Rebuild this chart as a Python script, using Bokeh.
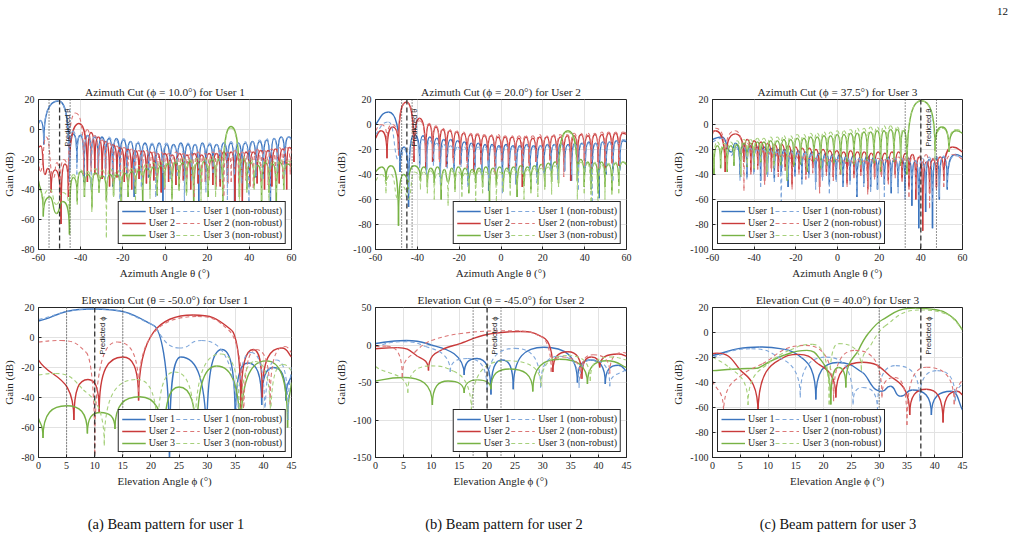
import numpy as np
from bokeh.plotting import figure
from bokeh.layouts import row, column
from bokeh.models import Range1d, Legend, LegendItem, Span, FixedTicker, ColumnDataSource, Title, Div
from bokeh.core.properties import value
from bokeh.embed import file_html
from bokeh.resources import INLINE

# ---------------------------------------------------------------------------
# Beam-pattern traces, stored as the extrema of each curve (lobe peaks and
# nulls, plus the values at the axis edges).  Gain in dB.
# ---------------------------------------------------------------------------

# Azimuth cut, phi = 10.0 deg (user 1 steered to theta = -50)
AZ1_U1_X = [-60, -59.2, -57.5, -50.5, -45.3,
            -43.6, -41.8, -40.1, -38.4, -36.7, -35.0, -33.3, -31.6, -29.9, -28.2, -26.5, -24.8, -23.1, -21.4,
            -19.7, -18.0, -16.3, -14.6, -12.9, -11.2, -9.5, -7.8, -6.1, -4.4, -2.7, -1.0, 0.7, 2.4, 4.1, 5.8,
            7.5, 9.2, 10.9, 12.6, 14.3, 16.0, 17.7, 19.4, 21.1, 22.8, 24.5, 26.2, 27.9, 29.6, 31.3, 33.0,
            34.7, 36.4, 38.1, 39.8, 41.5, 43.2, 44.9, 46.6, 48.3, 50.0, 51.7, 53.4, 55.1, 56.8, 58.6, 60]
AZ1_U1_Y = [4, 6, -10, 19, -28,
            -3, -22, -4, -35, -4, -24, -5, -30, -5, -26, -6, -38, -6, -28, -7, -30, -8, -45, -9, -27, -9, -32,
            -10, -28, -9, -50, -10, -30, -10, -27, -9, -33, -10, -30, -10, -48, -9, -28, -10, -30, -10, -35,
            -9, -31, -9, -55, -9, -30, -9, -28, -8, -32, -8, -30, -7, -60, -6, -29, -5, -26, -5, -6]
AZ1_U1NR_Y = [5, 6, -8, 19, -35,
              -1, -30, -3, -28, -4, -40, -4, -26, -6, -33, -5, -29, -7, -50, -6, -27, -8, -35, -8, -38, -10, -30,
              -9, -45, -10, -29, -9, -33, -11, -31, -10, -52, -9, -34, -10, -30, -10, -42, -9, -29, -10, -33,
              -9, -47, -8, -30, -9, -36, -8, -58, -8, -31, -7, -33, -6, -45, -6, -28, -5, -30, -5, -7]
AZ1_U2_X = [-60, -58.8, -57.0, -55.6, -54.0, -52.0, -49.3, -47.5, -45.8, -40.8, -36.8,
            -35.1, -33.3, -31.6, -29.8, -28.1, -26.3, -24.6, -22.8, -21.1, -19.3, -17.6, -15.8, -14.1, -12.3,
            -10.6, -8.8, -7.1, -5.3, -3.6, -1.8, -0.1, 1.7, 3.4, 5.2, 6.9, 8.7, 10.4, 12.2, 13.9, 15.7, 17.4,
            19.2, 20.9, 22.7, 24.4, 26.2, 27.9, 29.7, 31.4, 33.2, 34.9, 36.7, 38.4, 40.2, 41.9, 43.7, 45.4,
            47.2, 48.9, 50.7, 52.4, 54.2, 55.9, 57.7, 58.9, 60]
AZ1_U2_Y = [-12, -11, -30, -26, -42, -27, -63, -23, -45, 4, -35,
            -2, -30, -5, -33, -8, -38, -10, -32, -12, -35, -13, -40, -14, -33, -14, -36, -15, -34, -16, -42,
            -16, -35, -17, -37, -16, -34, -17, -40, -16, -36, -17, -35, -16, -37, -16, -38, -15, -36, -15, -52,
            -16, -55, -15, -38, -15, -36, -14, -40, -14, -38, -13, -36, -13, -40, -12, -13]
AZ1_U2NR_X = [-60, -59.2, -56.3, -52.8, -51.3, -49.8, -48.0, -45.9, -42.4, -38.6,
              -36.9, -35.1, -33.4, -31.6, -29.9, -28.1, -26.4, -24.6, -22.9, -21.1, -19.4, -17.6, -15.9, -14.1,
              -12.4, -10.6, -8.9, -7.1, -5.4, -3.6, -1.9, -0.1, 1.7, 3.4, 5.2, 6.9, 8.7, 10.4, 12.2, 13.9, 15.7,
              17.4, 19.2, 20.9, 22.7, 24.4, 26.2, 27.9, 29.7, 31.4, 33.2, 34.9, 36.7, 38.4, 40.2, 41.9, 43.7,
              45.4, 47.2, 48.9, 50.7, 52.4, 54.2, 55.9, 57.7, 59.4, 60]
AZ1_U2NR_Y = [-20, -28, -5, -32, -22, -48, -20, -40, 11, -30,
              0, -28, -4, -32, -7, -30, -9, -36, -11, -31, -12, -34, -13, -38, -14, -32, -14, -35, -15, -33,
              -15, -40, -16, -34, -15, -36, -16, -33, -16, -45, -15, -35, -16, -34, -15, -38, -14, -44, -15, -35,
              -14, -36, -15, -34, -14, -39, -13, -35, -14, -37, -13, -34, -12, -33, -12, -30, -14]
AZ1_U3_X = [-60, -57.7, -54.6, -51.5, -48.5, -45.3,
            -43.5, -41.6, -39.9, -38.2, -36.5, -34.7, -33.0, -31.3, -29.6, -27.8, -26.1, -24.4, -22.7, -20.9,
            -19.2, -17.5, -15.8, -14.0, -12.3, -10.6, -8.9, -7.1, -5.4, -3.7, -2.0, -0.2, 1.5, 3.3, 5.0, 6.7,
            8.5, 10.2, 11.9, 13.6, 15.4, 17.1, 18.8, 20.5, 22.3, 24.0, 25.7, 27.4,
            31.3, 35.3,
            37.1, 38.8, 40.6, 42.3, 44.1, 45.8, 47.6, 49.3, 51.1, 52.8, 54.6, 56.3, 58.2, 60]
AZ1_U3_Y = [-34, -58, -45, -56, -48, -70,
            -32, -48, -28, -45, -30, -52, -29, -42, -31, -47, -30, -44, -30, -60, -29, -45, -28, -43, -27, -50,
            -26, -40, -25, -44, -24, -38, -23, -46, -22, -40, -22, -42, -21, -55, -22, -40, -21, -45, -20, -40,
            -20, -50,
            2, -45,
            -20, -40, -22, -38, -24, -50, -22, -42, -23, -55, -22, -40, -23, -25]
AZ1_U3NR_Y = [-38, -52, -40, -50, -42, -60,
              -30, -50, -27, -44, -28, -55, -26, -42, -27, -72, -26, -45, -27, -48, -25, -42, -26, -52, -24, -40,
              -23, -46, -22, -43, -21, -39, -21, -48, -20, -41, -19, -44, -20, -40, -19, -52, -19, -41, -18, -45,
              -18, -47,
              1, -50,
              -18, -42, -20, -40, -21, -47, -20, -52, -21, -42, -20, -40, -21, -22]

# Azimuth cut, phi = 20.0 deg (user 2 steered to theta = -45)
AZ2_U1_X = [-60, -53.8, -48.3, -46.3, -44.2, -41.5, -38.9,
            -37.3, -35.6, -34.0, -32.3, -30.7, -29.0, -27.4, -25.7, -24.1, -22.4, -20.8, -19.1, -17.5, -15.8,
            -14.2, -12.5, -10.9, -9.2, -7.6, -5.9, -4.3, -2.6, -1.0, 0.7, 2.4, 4.0, 5.7, 7.3, 9.0, 10.6, 12.3,
            13.9, 15.6, 17.2, 18.9, 20.5, 22.2, 23.8, 25.5, 27.1, 28.8, 30.4, 32.1, 33.7, 35.4, 37.0, 38.7,
            40.3, 42.0, 43.6, 45.3, 46.9, 48.6, 50.2, 51.9, 53.5, 55.2, 56.8, 58.4, 60]
AZ2_U1_Y = [0, 10, -38, -18, -66, -8, -32,
            -9, -36, -10, -30, -11, -42, -12, -33, -12, -35, -13, -31, -14, -45, -15, -34, -15, -38, -16, -53,
            -16, -35, -17, -40, -16, -36, -17, -48, -17, -37, -16, -35, -17, -42, -17, -38, -16, -36, -16, -40,
            -15, -37, -16, -45, -15, -39, -15, -36, -14, -38, -15, -59, -14, -40, -14, -37, -13, -36, -13, -14]
AZ2_U1NR_Y = [-8, 2, -30, -20, -55, -10, -35,
              -12, -40, -13, -33, -15, -48, -16, -35, -17, -38, -18, -34, -18, -50, -17, -36, -18, -40, -18, -45,
              -17, -37, -18, -55, -17, -38, -18, -42, -18, -39, -17, -36, -18, -47, -17, -39, -17, -37, -16, -44,
              -16, -38, -17, -40, -16, -52, -15, -38, -15, -62, -15, -40, -14, -38, -14, -45, -13, -37, -12, -13]
AZ2_U2_X = [-60, -57.3, -54.5, -51.8, -49.0, -45.2, -41.6, -38.9, -36.0,
            -34.4, -32.7, -31.1, -29.4, -27.8, -26.1, -24.5, -22.8, -21.2, -19.5, -17.9, -16.2, -14.6, -12.9,
            -11.3, -9.6, -8.0, -6.3, -4.7, -3.0, -1.4, 0.3, 2.0, 3.6, 5.3, 6.9, 8.6, 10.2, 11.9, 13.5, 15.2,
            16.8, 18.5, 20.1, 21.8, 23.4, 25.1, 26.7, 28.4, 30.0, 31.7, 33.3, 35.0, 36.6, 38.3, 39.9, 41.6,
            43.2, 44.9, 46.5, 48.2, 49.8, 51.5, 53.1, 54.8, 56.4, 58.2, 60]
AZ2_U2_Y = [-11, -5, -27, -2, -20, 18, -30, 5, -35,
            0, -30, -2, -28, -4, -34, -5, -27, -6, -32, -7, -29, -8, -38, -8, -30, -9, -28, -9, -33, -10, -30,
            -10, -36, -10, -29, -11, -50, -10, -31, -11, -30, -10, -34, -10, -28, -9, -32, -10, -30, -9, -45,
            -9, -31, -8, -29, -9, -35, -8, -30, -8, -38, -7, -31, -7, -33, -7, -8]
AZ2_U2NR_Y = [-5, 0, -15, 0, -25, 18, -25, 3, -30,
              1, -26, -1, -30, -3, -25, -4, -31, -5, -28, -6, -35, -7, -27, -7, -32, -8, -29, -8, -40, -8, -28,
              -9, -31, -9, -34, -9, -29, -9, -33, -9, -30, -8, -36, -9, -29, -8, -31, -8, -42, -8, -30, -7, -29,
              -7, -33, -7, -30, -7, -35, -6, -30, -6, -31, -6, -29, -6, -7]
AZ2_U3_X = [-60, -57.0, -55.0, -52.5, -49.0, -46.6, -44.4, -41.5, -38.5,
            -36.9, -35.2, -33.6, -31.9, -30.3, -28.6, -27.0, -25.3, -23.7, -22.0, -20.4, -18.7, -17.1, -15.4,
            -13.8, -12.1, -10.5, -8.8, -7.2, -5.5, -3.9, -2.2, -0.6, 1.1, 2.8, 4.4, 6.1, 7.7, 9.4, 11.0, 12.7,
            14.3, 16.0, 17.6, 19.3, 20.9, 22.6, 24.2, 25.9, 27.5,
            32.0, 36.5,
            38.2, 39.8, 41.5, 43.1, 44.8, 46.4, 48.1, 49.7, 51.4, 53.0, 54.7, 56.3, 58.2, 60]
AZ2_U3_Y = [-38, -34, -45, -33, -81, -40, -55, -33, -45,
            -34, -50, -35, -47, -34, -60, -36, -46, -35, -52, -34, -48, -35, -55, -36, -47, -35, -50, -34, -62,
            -35, -48, -34, -53, -35, -47, -34, -58, -33, -49, -34, -52, -33, -48, -32, -50, -31, -46, -30, -47,
            -5, -45,
            -28, -50, -30, -52, -31, -55, -30, -50, -32, -53, -31, -49, -30, -32]
AZ2_U3NR_Y = [-45, -40, -55, -40, -60, -50, -60, -38, -52,
              -38, -55, -37, -60, -39, -52, -38, -65, -37, -54, -38, -58, -39, -52, -38, -62, -37, -55, -38, -53,
              -37, -66, -38, -54, -37, -57, -36, -52, -37, -60, -36, -55, -35, -58, -35, -52, -34, -56, -33, -50,
              -6, -60,
              -30, -55, -31, -95, -30, -92, -32, -60, -31, -56, -30, -55, -30, -31]

# Azimuth cut, phi = 37.5 deg (user 3 steered to theta = 40)
AZ3_U1_X = [-60, -55.5, -51.0, -49.0, -46.8,
            -45.2, -43.5, -41.9, -40.2, -38.6, -36.9, -35.3, -33.6, -32.0, -30.3, -28.7, -27.0, -25.4, -23.7,
            -22.1, -20.4, -18.8, -17.1, -15.5, -13.8, -12.2, -10.5, -8.9, -7.2, -5.6, -3.9, -2.3, -0.6, 1.1,
            2.7, 4.4, 6.0, 7.7, 9.3, 11.0, 12.6, 14.3, 15.9, 17.6, 19.2, 20.9, 22.5, 24.2, 25.8, 27.5, 29.1,
            30.8, 32.4, 34.1, 35.7, 37.4, 39.0, 40.7, 42.3, 44.0, 45.6, 47.3, 48.9, 50.8, 52.7, 56.5, 60]
AZ3_U1_Y = [-12, -10, -22, -15, -40,
            -16, -42, -17, -38, -18, -45, -18, -40, -19, -43, -20, -38, -20, -50, -21, -41, -21, -44, -22, -40,
            -22, -46, -23, -42, -23, -48, -24, -44, -24, -50, -25, -45, -25, -58, -26, -47, -25, -50, -26, -52,
            -27, -48, -26, -55, -27, -50, -28, -53, -27, -65, -29, -83, -30, -70, -28, -83, -27, -60, -26, -52,
            -24, -26]
AZ3_U1NR_Y = [-14, -11, -25, -18, -45,
              -18, -44, -19, -40, -20, -50, -20, -42, -21, -46, -22, -80, -21, -44, -22, -42, -23, -48, -23, -43,
              -24, -52, -24, -45, -25, -55, -25, -46, -26, -50, -26, -48, -27, -56, -27, -50, -28, -54, -27, -52,
              -28, -58, -27, -50, -27, -55, -27, -60, -28, -52, -29, -60, -27, -55, -26, -62, -25, -58, -25, -50,
              -25, -27]
AZ3_U2_X = [-60, -58.6, -53.9, -49.0, -44.9,
            -43.3, -41.6, -40.0, -38.3, -36.7, -35.0, -33.4, -31.7, -30.1, -28.4, -26.8, -25.1, -23.5, -21.8,
            -20.2, -18.5, -16.9, -15.2, -13.6, -11.9, -10.3, -8.6, -7.0, -5.3, -3.7, -2.0, -0.4, 1.3, 3.0, 4.6,
            6.3, 7.9, 9.6, 11.2, 12.9, 14.5, 16.2, 17.8, 19.5, 21.1, 22.8, 24.4, 26.1, 27.7, 29.4, 31.0, 32.7,
            34.3, 36.0, 37.6, 39.3, 40.9, 42.6, 44.2, 45.9, 47.5, 49.3, 51.0, 55.2, 60]
AZ3_U2_Y = [-6, -5, -38, -7.5, -30,
            -12, -38, -13, -33, -14, -45, -15, -35, -16, -38, -16, -34, -17, -48, -18, -36, -19, -40, -19, -35,
            -20, -50, -20, -38, -21, -42, -21, -36, -22, -47, -21, -40, -22, -38, -22, -52, -23, -42, -22, -40,
            -23, -45, -22, -40, -22, -43, -23, -50, -24, -60, -26, -85, -30, -55, -28, -50, -26, -45,
            -18, -22]
AZ3_U2NR_Y = [-8, -3, -30, -5, -53,
              -15, -40, -18, -36, -20, -48, -22, -38, -23, -42, -24, -37, -25, -52, -25, -40, -26, -44, -27, -39,
              -27, -55, -28, -41, -28, -45, -28, -40, -29, -50, -29, -43, -28, -41, -29, -56, -28, -44, -27, -42,
              -28, -48, -27, -43, -26, -46, -27, -58, -26, -52, -25, -48, -24, -67, -27, -52, -26, -50,
              -24, -28]
AZ3_U3_X = [-60, -59.3,
            -57.7, -56.1, -54.5, -52.9, -51.3, -49.7, -48.1, -46.5, -44.9, -43.3, -41.7, -40.1, -38.5, -36.9,
            -35.3, -33.7, -32.1, -30.5, -28.9, -27.3, -25.7, -24.1, -22.5, -20.9, -19.3, -17.7, -16.1, -14.5,
            -12.9, -11.3, -9.7, -8.1, -6.5, -4.9, -3.3, -1.7, -0.1, 1.5, 3.1, 4.7, 6.3, 7.9, 9.5, 11.1, 12.7,
            14.3, 15.9, 17.5, 19.1, 20.7, 22.3, 23.9, 25.5, 27.1, 28.7, 30.3, 31.8, 33.3,
            40.2, 46.8, 50.1, 53.5, 57.0, 60]
AZ3_U3_Y = [-20, -40,
            -17, -35, -18, -38, -17, -33, -16, -42, -15, -34, -15, -36, -14, -31, -14, -40, -13, -35, -13, -33,
            -12, -45, -12, -34, -11, -32, -11, -38, -10, -30, -10, -36, -9, -33, -9, -31, -8, -40, -8, -30,
            -7, -32, -7, -35, -6, -29, -6, -31, -5, -38, -5, -28, -4, -30, -4, -33, -5, -40,
            19, -21, -2, -22, -5, -7]
AZ3_U3NR_Y = [-18, -35,
              -14, -32, -15, -36, -14, -30, -13, -40, -12, -31, -12, -35, -11, -29, -11, -38, -10, -33, -10, -30,
              -9, -42, -9, -31, -8, -30, -8, -35, -7, -28, -7, -33, -6, -30, -6, -28, -5, -36, -5, -27,
              -4, -30, -3, -32, -3, -26, -2, -29, -2, -34, -1, -26, -1, -28, -2, -30, -3, -38,
              19, -28, -3, -20, -4, -6]

# Elevation cut, theta = -50.0 deg (user 1 steered to phi = 10)
EL1_U1_X = [0, 9.5, 20.5, 23.3, 25.3, 29.9, 32.6, 35.0, 37.2, 39.7, 41.8, 44.0, 45]
EL1_U1_Y = [11, 19, 8, -80, -13, -75, -8, -60, -17, -45, -20, -42, -25]
EL1_U1NR_X = [0, 10, 20, 25, 29, 35.4, 37.8, 40.3, 42.3, 44.4, 45]
EL1_U1NR_Y = [12, 19, 9, -7, -2, -70, -10, -60, -15, -55, -20]
EL1_U2_X = [0, 6.3, 8.8, 10.8, 15, 17.8, 27.5, 34.3, 36.0, 38.2, 39.8, 43.3, 45]
EL1_U2_Y = [-15, -55, -28, -50, -13, -42, 15, 5, -50, -8, -40, -7, -13]
EL1_U2NR_X = [0, 4, 8.5, 10, 14, 17.8, 28.3, 33.8, 36.5, 38.7, 41.2, 43.8, 45]
EL1_U2NR_Y = [-3, -2, -10, -78, -3, -36, 14, 5, -60, -8, -45, -6, -10]
EL1_U3_X = [0, 0.8, 5, 8.7, 11, 13.6, 18, 22.3, 25, 28.1, 31.7, 35.9, 40.5, 44.3, 45]
EL1_U3_Y = [-54, -67, -45.5, -64, -50, -61, -39.5, -75, -33, -75, -19, -70, -15.6, -60, -30]
EL1_U3NR_X = [0, 3, 8, 11.7, 17.5, 21.2, 24.2, 27.8, 32.5, 35.9, 38.5, 41.3, 43.5, 45]
EL1_U3NR_Y = [-25, -24, -35, -72, -28, -70, -23, -70, -11, -68, -16, -60, -18, -22]

# Elevation cut, theta = -45.0 deg (user 2 steered to phi = 20)
EL2_U1_X = [0, 5.5, 10, 15.9, 18.2, 20.7, 22.7, 24.7, 30.2, 36.2, 38.5, 41.2, 43.5, 45]
EL2_U1_Y = [2, 6, 0, -40, -18, -66, -20, -59, -3, -50, -20, -52, -27, -35]
EL2_U1NR_X = [0, 5, 9, 13.4, 16.5, 20, 25, 29.6, 33, 36.5, 38.7, 42, 45]
EL2_U1NR_Y = [-2, 4.5, -2, -36, -18, -60, -4.5, -57, -15, -57, -20, -55, -32]
EL2_U2_X = [0, 4, 7.5, 9.5, 12, 15, 20, 26, 30, 31.8, 34.5, 37, 38.7, 40.2, 43.5, 45]
EL2_U2_Y = [-5, -3.5, -15, -34, -6, 1.5, 14, 18, 10.4, -36, -9, -45, -16, -30, -12, -15]
EL2_U2NR_X = [0, 2, 4.8, 7, 10, 15, 20, 25, 29.5, 31.5, 33.5, 36.8, 39, 42, 44.5, 45]
EL2_U2NR_Y = [-2, -1.5, -43, -10, 6, 15, 18.5, 19, 12, -36, -16, -45, -13, -38, -10, -11]
EL2_U3_X = [0, 5, 10.2, 13, 15.9, 18.3, 20.7, 24, 28.2, 33, 38, 41.5, 45]
EL2_U3_Y = [-48, -43.4, -80, -48, -64, -46.5, -59, -32, -62, -19, -52, -21, -30]
EL2_U3NR_X = [0, 5.8, 10, 14, 17.2, 23.5, 29.7, 34.5, 38.5, 42, 45]
EL2_U3NR_Y = [-28.6, -63.7, -27.8, -35, -90, -21, -55, -14, -48, -16, -20]

# Elevation cut, theta = 40.0 deg (user 3 steered to phi = 37.5)
EL3_U1_X = [0, 8.5, 13, 16, 18.6, 22.5, 27, 30.5, 32, 33.8, 36, 39.4, 43, 45]
EL3_U1_Y = [-18.4, -11.6, -13.5, -20, -53.5, -24, -32, -47, -43, -51, -46, -66, -47, -62]
EL3_U1NR_X = [0, 7, 12, 15.8, 20.5, 25.3, 27, 29.7, 33, 37.3, 40.5, 43.7, 45]
EL3_U1NR_Y = [-20, -13, -20, -52, -19.7, -57.6, -44, -63, -26.5, -55, -30.5, -55, -40]
EL3_U2_X = [0, 0.8, 5, 8.2, 12, 15.5, 19, 22.2, 27, 32, 35.5, 38.5, 41.5, 44, 45]
EL3_U2_Y = [-17, -16.5, -30, -65, -22, -17.5, -25, -52, -23.8, -35, -66, -45.4, -72, -47, -50]
EL3_U2NR_X = [0, 2, 5, 9, 16.8, 21.8, 25.7, 30.5, 32.8, 35, 38.5, 43.5, 45]
EL3_U2NR_Y = [-38.6, -65, -35, -25, -10.3, -55, -14.3, -52, -36, -74, -27.8, -57.6, -37]
EL3_U3_X = [0, 5, 8, 10, 13, 17, 19.5, 21.3, 22.7, 24, 26.3, 28, 30.5, 36.5, 41, 43.5, 45]
EL3_U3_Y = [-30.5, -29, -28.6, -24, -18, -14.3, -22, -57.6, -28, -44, -14, -1, 10, 19.5, 17.5, 11, 2]
EL3_U3NR_X = [0, 3, 6.4, 10, 14, 18, 21, 22.7, 26.8, 28.5, 31, 37.5, 42, 45]
EL3_U3NR_Y = [-19.7, -28, -58, -25, -14, -9.5, -57.6, -8.9, -30.5, -10, 5, 18, 15, 3]

# Predicted direction and the uncertainty interval marked around it
AZ_PREDICTED = [-50.0, -45.0, 40.0]
AZ_INTERVAL = [(-55.0, -45.0), (-47.5, -42.5), (32.5, 47.5)]
EL_PREDICTED = [10.0, 20.0, 37.5]
EL_INTERVAL = [(5.0, 15.0), (17.5, 22.5), (30.0, 45.0)]

AZ_TITLES = ["Azimuth Cut (ϕ = 10.0°) for User 1",
             "Azimuth Cut (ϕ = 20.0°) for User 2",
             "Azimuth Cut (ϕ = 37.5°) for User 3"]
EL_TITLES = ["Elevation Cut (θ = -50.0°) for User 1",
             "Elevation Cut (θ = -45.0°) for User 2",
             "Elevation Cut (θ = 40.0°) for User 3"]
CAPTIONS = ["(a) Beam pattern for user 1", "(b) Beam pattern for user 2", "(c) Beam pattern for user 3"]
PAGE_NUMBER = "12"

AZ_XTICKS = [-60, -40, -20, 0, 20, 40, 60]
EL_XTICKS = [0, 5, 10, 15, 20, 25, 30, 35, 40, 45]
AZ_YTICKS = [[-80, -60, -40, -20, 0, 20], [-100, -80, -60, -40, -20, 0, 20], [-100, -80, -60, -40, -20, 0, 20]]
EL_YTICKS = [[-80, -60, -40, -20, 0, 20], [-150, -100, -50, 0, 50], [-100, -80, -60, -40, -20, 0, 20]]

LEGEND_LABELS = ["User 1", "User 2", "User 3",
                 "User 1 (non-robust)", "User 2 (non-robust)", "User 3 (non-robust)"]

# ---------------------------------------------------------------------------
# Styling
# ---------------------------------------------------------------------------
SERIF = "Liberation Serif"
INK = "#262626"
SOLID = ["#3b74be", "#c93a3a", "#77b244"]
DASHED = ["#7fa7db", "#dc7676", "#a6d07b"]
SOLID_W, DASHED_W = 1.4, 1.1
DASH = "4 3"


def lobe_segments(xs, ys, rise=0.8, shoulder=0.6):
    """Cubic Bezier pieces between consecutive extrema: flat tops at maxima,
    near-vertical flanks into deep nulls, smooth pass-through elsewhere."""
    n = min(len(xs), len(ys))
    x = np.asarray(xs[:n], dtype=float)
    y = np.asarray(ys[:n], dtype=float)
    kind = []
    for i in range(n):
        if i == 0 or i == n - 1:
            kind.append("edge")
            continue
        lo, hi = min(y[i - 1], y[i + 1]), max(y[i - 1], y[i + 1])
        if y[i] >= hi:
            kind.append("max")
        elif y[i] <= lo:
            kind.append("null" if lo - y[i] > 10 else "min")
        else:
            kind.append("pass")

    def slope(i):
        if i == 0:
            return (y[1] - y[0]) / (x[1] - x[0])
        if i == n - 1:
            return (y[-1] - y[-2]) / (x[-1] - x[-2])
        s1 = (y[i] - y[i - 1]) / (x[i] - x[i - 1])
        s2 = (y[i + 1] - y[i]) / (x[i + 1] - x[i])
        return 2.0 / (1.0 / s1 + 1.0 / s2)

    def ctrl(i, j):
        dx, dy = x[j] - x[i], y[j] - y[i]
        k = kind[i]
        if k in ("max", "min"):
            return x[i] + shoulder * dx, y[i]
        if k == "null":
            return x[i], y[i] + rise * dy
        m = slope(i)
        return x[i] + dx / 3.0, y[i] + m * dx / 3.0

    seg = {k: [] for k in ("x0", "y0", "x1", "y1", "cx0", "cy0", "cx1", "cy1")}
    for i in range(n - 1):
        c0 = ctrl(i, i + 1)
        c1 = ctrl(i + 1, i)
        seg["x0"].append(x[i]); seg["y0"].append(y[i])
        seg["x1"].append(x[i + 1]); seg["y1"].append(y[i + 1])
        seg["cx0"].append(c0[0]); seg["cy0"].append(c0[1])
        seg["cx1"].append(c1[0]); seg["cy1"].append(c1[1])
    return seg


def make_panel(title, xr, yr, xticks, yticks, xlabel, w, h, ml, mr, mt, mb):
    p = figure(width=w, height=h, x_range=Range1d(*xr), y_range=Range1d(*yr),
               output_backend="svg", toolbar_location=None, title=None,
               min_border_left=ml, min_border_right=mr, min_border_top=mt, min_border_bottom=mb,
               background_fill_color="white", border_fill_color="white")
    p.add_layout(Title(text=title, align="center", standoff=3, text_font=SERIF,
                       text_font_size="11.3px", text_font_style="normal", text_color=INK), "above")
    p.xaxis.ticker = FixedTicker(ticks=xticks)
    p.yaxis.ticker = FixedTicker(ticks=yticks)
    p.xaxis.major_label_overrides = {t: str(t) for t in xticks}
    p.yaxis.major_label_overrides = {t: str(t) for t in yticks}
    p.xaxis.axis_label = xlabel
    p.yaxis.axis_label = "Gain (dB)"
    for ax in (p.xaxis[0], p.yaxis[0]):
        ax.major_tick_in = 3
        ax.major_tick_out = 0
        ax.minor_tick_line_color = None
        ax.axis_line_color = INK
        ax.major_tick_line_color = INK
        ax.major_label_text_font = SERIF
        ax.major_label_text_font_size = "10px"
        ax.major_label_text_color = INK
        ax.axis_label_text_font = SERIF
        ax.axis_label_text_font_size = "11px"
        ax.axis_label_text_font_style = "normal"
        ax.axis_label_text_color = INK
        ax.major_label_standoff = 4
        ax.axis_label_standoff = 3
    p.grid.grid_line_color = "#e2e2e2"
    p.grid.grid_line_width = 1
    p.outline_line_color = INK
    p.outline_line_width = 1
    p.outline_line_alpha = 1
    return p


def draw_curves(p, traces):
    for xs, ys, color, width, dash in traces:
        src = ColumnDataSource(lobe_segments(xs, ys))
        p.bezier(x0="x0", y0="y0", x1="x1", y1="y1", cx0="cx0", cy0="cy0", cx1="cx1", cy1="cy1",
                 source=src, line_color=color, line_width=width, line_dash=dash)


def draw_markers(p, predicted, interval, ytop, label):
    for xv in interval:
        p.add_layout(Span(location=xv, dimension="height", line_color=INK,
                          line_dash="1 2", line_width=1))
    p.add_layout(Span(location=predicted, dimension="height", line_color="#333333",
                      line_dash="5 3", line_width=1.3))
    p.text(x=[predicted], y=[ytop], text=[label], angle=np.pi / 2, x_offset=3, y_offset=9,
           text_align="right", text_baseline="top", text_font=value("Liberation Sans"),
           text_font_size="7.5px", text_color=INK)


def add_legend(p, loc):
    items = []
    styles = [(c, SOLID_W, "solid") for c in SOLID] + [(c, DASHED_W, DASH) for c in DASHED]
    for lab, (c, w, d) in zip(LEGEND_LABELS, styles):
        # swatch-only renderer: a single undefined point, so nothing lands in the frame
        r = p.line(x=[np.nan], y=[np.nan], line_color=c, line_width=w, line_dash=d)
        items.append(LegendItem(label=lab, renderers=[r]))
    lg = Legend(items=items, ncols=2, location=loc, margin=5, padding=3, spacing=1,
                label_text_font=SERIF, label_text_font_size="10px", label_text_color=INK,
                label_height=10, glyph_height=10, glyph_width=24, label_standoff=3,
                border_line_color=INK, border_line_width=1, border_line_alpha=1,
                background_fill_color="white", background_fill_alpha=1)
    p.add_layout(lg)


AZ_DATA = [
    [(AZ1_U1_X, AZ1_U1_Y), (AZ1_U2_X, AZ1_U2_Y), (AZ1_U3_X, AZ1_U3_Y),
     (AZ1_U1_X, AZ1_U1NR_Y), (AZ1_U2NR_X, AZ1_U2NR_Y), (AZ1_U3_X, AZ1_U3NR_Y)],
    [(AZ2_U1_X, AZ2_U1_Y), (AZ2_U2_X, AZ2_U2_Y), (AZ2_U3_X, AZ2_U3_Y),
     (AZ2_U1_X, AZ2_U1NR_Y), (AZ2_U2_X, AZ2_U2NR_Y), (AZ2_U3_X, AZ2_U3NR_Y)],
    [(AZ3_U1_X, AZ3_U1_Y), (AZ3_U2_X, AZ3_U2_Y), (AZ3_U3_X, AZ3_U3_Y),
     (AZ3_U1_X, AZ3_U1NR_Y), (AZ3_U2_X, AZ3_U2NR_Y), (AZ3_U3_X, AZ3_U3NR_Y)],
]
EL_DATA = [
    [(EL1_U1_X, EL1_U1_Y), (EL1_U2_X, EL1_U2_Y), (EL1_U3_X, EL1_U3_Y),
     (EL1_U1NR_X, EL1_U1NR_Y), (EL1_U2NR_X, EL1_U2NR_Y), (EL1_U3NR_X, EL1_U3NR_Y)],
    [(EL2_U1_X, EL2_U1_Y), (EL2_U2_X, EL2_U2_Y), (EL2_U3_X, EL2_U3_Y),
     (EL2_U1NR_X, EL2_U1NR_Y), (EL2_U2NR_X, EL2_U2NR_Y), (EL2_U3NR_X, EL2_U3NR_Y)],
    [(EL3_U1_X, EL3_U1_Y), (EL3_U2_X, EL3_U2_Y), (EL3_U3_X, EL3_U3_Y),
     (EL3_U1NR_X, EL3_U1NR_Y), (EL3_U2NR_X, EL3_U2NR_Y), (EL3_U3NR_X, EL3_U3NR_Y)],
]

AZ_YRANGES = [(-80, 20), (-100, 20), (-100, 20)]
EL_YRANGES = [(-80, 20), (-150, 50), (-100, 20)]

# Page geometry: page-number strip, two rows of three equal plot frames, caption strip
PAGE_W = 1014
HEADER_H = 20
FOOTER_H = 47
FRAME_W = [254, 254, 253]
FRAME_H = 150
BORDER_L = [37, 40, 40]
BORDER_R = [41, 43, 52]
TOP_ROW_T, TOP_ROW_B = 99 - HEADER_H, 32
BOT_ROW_T, BOT_ROW_B = 26, 34
LEGEND_LOC = ["bottom_right", "bottom_right", "bottom_left"]
CAPTION_CENTER = [166, 504, 838]

top_row, bottom_row = [], []
for k in range(3):
    w = BORDER_L[k] + FRAME_W[k] + BORDER_R[k]
    styles = [(c, SOLID_W, "solid") for c in SOLID] + [(c, DASHED_W, DASH) for c in DASHED]

    pa = make_panel(AZ_TITLES[k], (-60, 60), AZ_YRANGES[k], AZ_XTICKS, AZ_YTICKS[k],
                    "Azimuth Angle θ (°)", w, TOP_ROW_T + FRAME_H + TOP_ROW_B,
                    BORDER_L[k], BORDER_R[k], TOP_ROW_T, TOP_ROW_B)
    draw_curves(pa, [(xs, ys, c, lw, d) for (xs, ys), (c, lw, d) in zip(AZ_DATA[k], styles)])
    draw_markers(pa, AZ_PREDICTED[k], AZ_INTERVAL[k], AZ_YRANGES[k][1], "Predicted θ")
    add_legend(pa, LEGEND_LOC[k])
    top_row.append(pa)

    pe = make_panel(EL_TITLES[k], (0, 45), EL_YRANGES[k], EL_XTICKS, EL_YTICKS[k],
                    "Elevation Angle ϕ (°)", w, BOT_ROW_T + FRAME_H + BOT_ROW_B,
                    BORDER_L[k], BORDER_R[k], BOT_ROW_T, BOT_ROW_B)
    draw_curves(pe, [(xs, ys, c, lw, d) for (xs, ys), (c, lw, d) in zip(EL_DATA[k], styles)])
    draw_markers(pe, EL_PREDICTED[k], EL_INTERVAL[k], EL_YRANGES[k][1], "Predicted ϕ")
    add_legend(pe, LEGEND_LOC[k])
    bottom_row.append(pe)

header = Div(text=(f'<div style="position:relative; width:{PAGE_W}px; height:{HEADER_H}px;">'
                   '<div style="position:absolute; right:6px; top:6px; font-family:\'Liberation Serif\';'
                   f' font-size:11px; line-height:11px; color:#111111;">{PAGE_NUMBER}</div></div>'),
             width=PAGE_W, height=HEADER_H, margin=0)

caption_html = "".join(
    f'<div style="position:absolute; left:{c - 120}px; width:240px; top:25px; text-align:center;'
    f' white-space:nowrap;">{t}</div>'
    for c, t in zip(CAPTION_CENTER, CAPTIONS))
footer = Div(text=(f'<div style="position:relative; width:{PAGE_W}px; height:{FOOTER_H}px;'
                   ' font-family:\'Liberation Serif\'; font-size:14.5px; line-height:16px; color:#111111;">'
                   + caption_html + '</div>'),
             width=PAGE_W, height=FOOTER_H, margin=0)

page = column(header, row(*top_row), row(*bottom_row), footer)
open("out.html", "w").write(file_html(page, INLINE))
